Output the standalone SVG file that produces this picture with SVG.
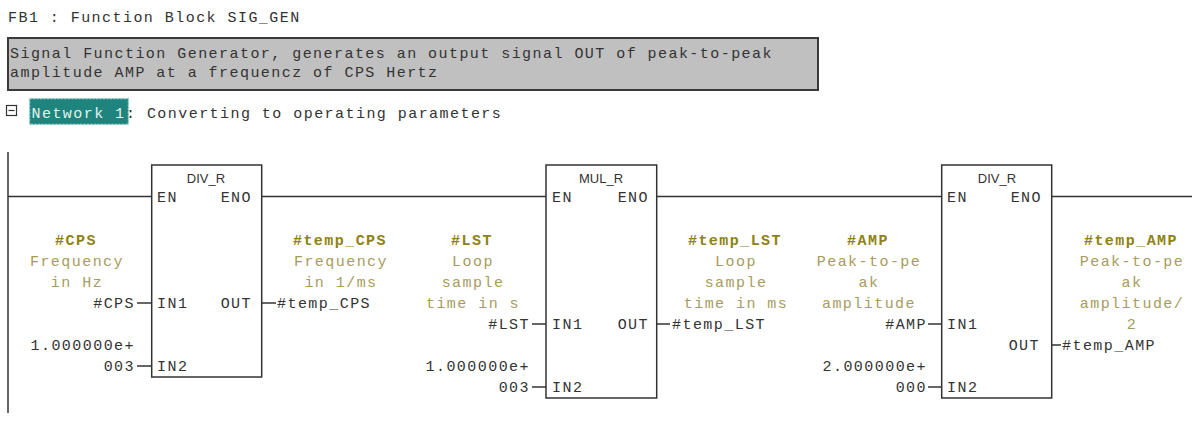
<svg xmlns="http://www.w3.org/2000/svg" width="1192" height="428" viewBox="0 0 1192 428">
<style>
.m{font-family:"Liberation Mono","Courier New",monospace;font-size:15px;letter-spacing:1.45px;fill:#333}
.s{font-family:"Liberation Sans",Arial,sans-serif;font-size:13px;fill:#333;text-anchor:middle}
.c{font-family:"Liberation Mono","Courier New",monospace;font-size:15px;letter-spacing:1.45px;fill:#a69c5e;text-anchor:middle}
.cb{font-family:"Liberation Mono","Courier New",monospace;font-size:15px;letter-spacing:1.45px;fill:#8e8214;font-weight:bold;text-anchor:middle}
.e{text-anchor:end}
.ln{stroke:#333;stroke-width:1.5;fill:none}
.box{fill:#fff;stroke:#333;stroke-width:1.5}
</style>
<rect width="1192" height="428" fill="#fff"/>
<g id="header">
<text class="m" x="8" y="22">FB1 : Function Block SIG_GEN</text>
<rect x="8" y="38" width="810" height="52" fill="#c0c0c0" stroke="#3a3a3a" stroke-width="2"/>
<text class="m" x="10" y="58">Signal Function Generator, generates an output signal OUT of peak-to-peak</text>
<text class="m" x="10" y="77">amplitude AMP at a frequencz of CPS Hertz</text>
</g>
<g id="network-title">
<rect x="6.5" y="105.5" width="10" height="10" fill="#fff" stroke="#333" stroke-width="1.2"/>
<line x1="8.5" y1="110.5" x2="14.5" y2="110.5" stroke="#333" stroke-width="1.2"/>
<rect x="29.5" y="98.5" width="99" height="26" fill="#1f847e" stroke="#a8dcd4" stroke-width="1.5" stroke-dasharray="2 1.5"/>
<text class="m" x="31.5" y="118" style="fill:#e4f4ea">Network 1</text>
<text class="m" x="126" y="118">: Converting to operating parameters</text>
</g>
<g id="connectors">
<line class="ln" x1="8" y1="152" x2="8" y2="413"/>
<line class="ln" x1="8" y1="196.5" x2="151.7" y2="196.5"/>
<line class="ln" x1="261.7" y1="196.5" x2="546" y2="196.5"/>
<line class="ln" x1="656.7" y1="196.5" x2="941.7" y2="196.5"/>
<line class="ln" x1="1051.7" y1="196.5" x2="1192" y2="196.5"/>
<line class="ln" x1="137" y1="303" x2="151.7" y2="303"/>
<line class="ln" x1="137" y1="366" x2="151.7" y2="366"/>
<line class="ln" x1="261.7" y1="303" x2="276" y2="303"/>
<line class="ln" x1="532" y1="324" x2="546" y2="324"/>
<line class="ln" x1="532" y1="387" x2="546" y2="387"/>
<line class="ln" x1="656.7" y1="324" x2="670" y2="324"/>
<line class="ln" x1="928" y1="324" x2="941.7" y2="324"/>
<line class="ln" x1="928" y1="387" x2="941.7" y2="387"/>
<line class="ln" x1="1051.7" y1="345" x2="1061" y2="345"/>
</g>
<g id="div1">
<rect class="box" x="151.7" y="165" width="110" height="212"/>
<text class="s" x="206" y="183">DIV_R</text>
<text class="m" x="157" y="202">EN</text>
<text class="m e" x="252" y="202">ENO</text>
<text class="m" x="157" y="308">IN1</text>
<text class="m e" x="252" y="308">OUT</text>
<text class="m" x="157" y="371">IN2</text>
<text class="cb" x="76" y="245">#CPS</text>
<text class="c" x="77" y="266">Frequency</text>
<text class="c" x="77" y="287">in Hz</text>
<text class="m e" x="135" y="308">#CPS</text>
<text class="m e" x="135" y="350">1.000000e+</text>
<text class="m e" x="135" y="371">003</text>
<text class="cb" x="340" y="245">#temp_CPS</text>
<text class="c" x="341" y="266">Frequency</text>
<text class="c" x="341" y="287">in 1/ms</text>
<text class="m" x="277" y="308">#temp_CPS</text>
</g>
<g id="mul">
<rect class="box" x="546" y="165" width="110.7" height="233"/>
<text class="s" x="601" y="183">MUL_R</text>
<text class="m" x="552" y="202">EN</text>
<text class="m e" x="649" y="202">ENO</text>
<text class="m" x="552" y="329">IN1</text>
<text class="m e" x="649" y="329">OUT</text>
<text class="m" x="552" y="392">IN2</text>
<text class="cb" x="472" y="245">#LST</text>
<text class="c" x="473" y="266">Loop</text>
<text class="c" x="473" y="287">sample</text>
<text class="c" x="473" y="308">time in s</text>
<text class="m e" x="530" y="329">#LST</text>
<text class="m e" x="530" y="371">1.000000e+</text>
<text class="m e" x="530" y="392">003</text>
<text class="cb" x="735" y="245">#temp_LST</text>
<text class="c" x="736" y="266">Loop</text>
<text class="c" x="736" y="287">sample</text>
<text class="c" x="736" y="308">time in ms</text>
<text class="m" x="672" y="329">#temp_LST</text>
</g>
<g id="div2">
<rect class="box" x="941.7" y="165" width="110" height="233"/>
<text class="s" x="997" y="183">DIV_R</text>
<text class="m" x="947" y="202">EN</text>
<text class="m e" x="1042" y="202">ENO</text>
<text class="m" x="947" y="329">IN1</text>
<text class="m e" x="1040" y="350">OUT</text>
<text class="m" x="947" y="392">IN2</text>
<text class="cb" x="868" y="245">#AMP</text>
<text class="c" x="869" y="266">Peak-to-pe</text>
<text class="c" x="869" y="287">ak</text>
<text class="c" x="869" y="308">amplitude</text>
<text class="m e" x="927" y="329">#AMP</text>
<text class="m e" x="927" y="371">2.000000e+</text>
<text class="m e" x="927" y="392">000</text>
<text class="cb" x="1131" y="245">#temp_AMP</text>
<text class="c" x="1132" y="266">Peak-to-pe</text>
<text class="c" x="1132" y="287">ak</text>
<text class="c" x="1132" y="308">amplitude/</text>
<text class="c" x="1132" y="329">2</text>
<text class="m" x="1062" y="350">#temp_AMP</text>
</g>
</svg>
